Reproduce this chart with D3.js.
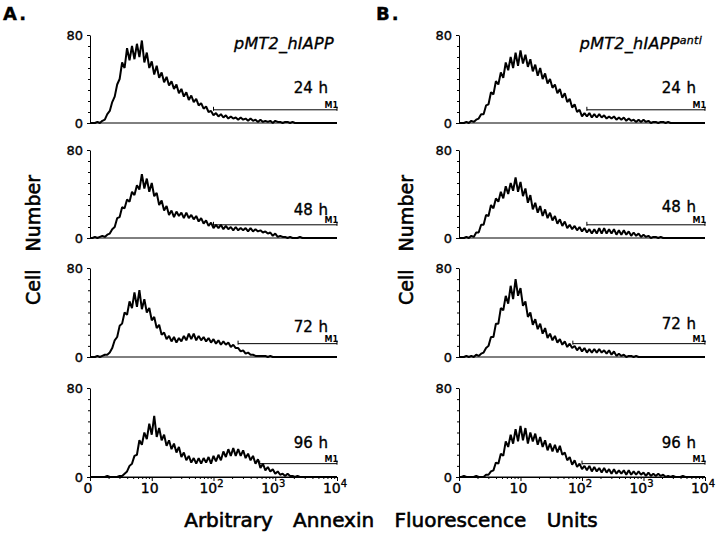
<!DOCTYPE html>
<html><head><meta charset="utf-8">
<script src="https://cdn.jsdelivr.net/npm/d3@7"></script>
<style>
body{margin:0;background:#fff}
svg{display:block}
text{font-family:"DejaVu Sans",sans-serif;fill:#000;stroke:#000;stroke-width:0.35px}
</style>
</head><body><svg id="c" width="720" height="538"></svg>
<script>
// ---------- data ----------
const times = ["24 h","48 h","72 h","96 h"];
const panelLetters = ["A.","B."];
const panelTitles = ["pMT2_hIAPP","pMT2_hIAPP"];
const titleSup = ["","anti"];
const nBins = 101; // channels evenly spaced in log10 from 10^0 to 10^4

const a24 = [0,0,0,1,0,2,3,8,11,19, 24,35,40,55,50,68,57,70,58,72, 60,75,55,64,50,56,44,52,41,46,
  37,42,34,38,31,35,27,31,24,28, 21,25,19,22,16,18,13,15,10,11, 7,9,6,8,5,7,4,6,4,5,
  3,5,3,4,2,4,2,3,1,3, 1,2,1,2,0,2,1,1,0,1, 1,0,1,0,0,0,0,0,0,0, 0,0,0,0,0,0,0,0,0,0, 0];
const a48 = [0,0,1,0,1,2,1,3,4,8, 10,18,19,28,27,35,33,42,39,48, 44,58,45,54,42,50,38,41,30,34,
  25,29,21,25,19,24,20,23,18,23, 18,21,17,20,15,18,13,16,11,14, 9,12,9,12,8,11,8,10,7,10,
  7,9,7,9,6,9,6,8,6,7, 5,6,4,5,2,4,1,2,1,1, 0,1,0,0,0,1,0,0,0,0, 0,0,0,0,0,0,0,0,0,0, 0];
const a72 = [0,0,0,1,0,1,2,2,4,8, 15,18,28,30,40,38,50,44,58,45, 60,43,52,40,44,33,36,26,29,20,
  22,16,19,14,18,13,17,14,19,15, 21,16,21,15,19,15,18,14,17,13, 16,12,15,11,14,11,13,9,11,8,
  8,5,6,3,4,2,2,1,1,1, 1,1,0,1,0,0,0,0,0,0, 0,0,0,0,0,0,0,0,0,0, 0,0,0,0,0,0,0,0,0,0, 0];
const a96 = [0,0,0,0,0,0,0,1,0,0, 0,0,1,1,3,5,10,12,19,20, 33,29,40,34,48,38,55,36,44,33,
  38,28,33,25,30,22,27,18,22,15, 19,13,17,12,17,12,17,13,18,12, 19,14,20,15,23,18,25,19,26,19,
  25,19,24,17,21,15,19,12,16,8, 12,6,9,5,7,3,5,2,3,1, 3,1,1,0,1,0,0,0,0,0, 0,0,0,0,0,0,0,0,0,0, 0];
const b24 = [0,0,0,1,0,2,1,3,4,8, 8,16,17,28,26,38,35,46,41,55, 48,60,50,64,52,66,54,62,51,58,
  47,53,43,50,40,45,36,40,32,35, 27,31,23,27,19,22,14,17,10,12, 6,9,6,9,5,8,5,8,5,7,
  4,6,4,6,3,5,3,5,2,4, 2,3,1,3,1,3,1,2,0,1, 1,0,1,1,0,1,0,0,0,0, 0,0,0,0,0,0,0,0,0,0, 0];
const b48 = [0,0,0,1,0,2,1,5,5,12, 12,21,20,30,27,36,33,42,36,47, 40,50,43,55,42,51,38,45,32,39,
  26,32,23,29,20,26,18,23,16,20, 13,17,11,15,9,12,8,11,7,10, 6,9,5,8,4,8,4,9,4,9,
  4,8,4,8,3,7,3,7,3,6, 2,5,2,4,1,3,1,2,0,1, 1,0,1,0,0,0,0,0,0,0, 0,0,0,0,0,0,0,0,0,0, 0];
const b72 = [0,0,0,1,0,1,0,2,1,3, 4,8,10,18,18,30,30,44,42,55, 48,64,52,70,55,62,46,50,36,40,
  29,34,25,30,21,26,17,21,15,19, 13,16,11,14,9,12,8,10,6,9, 5,8,4,7,4,7,4,7,4,6,
  3,6,2,5,1,3,1,2,0,1, 1,0,1,0,0,0,0,0,0,0, 0,0,0,0,0,0,0,0,0,0, 0,0,0,0,0,0,0,0,0,0, 0];
const b96 = [0,0,1,0,0,0,0,1,0,0, 0,2,2,5,6,13,12,21,19,32, 27,38,30,43,32,46,33,44,30,40,
  32,39,29,36,27,33,24,30,23,29, 22,28,20,22,15,18,11,15,9,12, 7,10,6,10,5,9,5,8,4,8,
  4,7,3,7,3,6,3,6,2,6, 2,5,2,5,2,4,1,4,1,3, 1,3,1,2,0,1,0,1,0,0, 0,1,0,0,0,0,0,0,0,0, 0];

const seriesA = [a24,a48,a72,a96];
const seriesB = [b24,b48,b72,b96];
const m1StartA = [100,100,250,560];
const m1StartB = [120,120,71,100];
const m1Level = 12;
const yTicks = [0,80];
const yMinor = [10,20,30,40,50,60,70];
const xTicks = [1,10,100,1000,10000];
const xTickBase = ["0","10","10","10","10"];
const xTickExp = ["","","2","3","4"];
const xTitle = "Arbitrary Annexin Fluorescence Units";
const yTitle = "Cell Number";

// ---------- layout ----------
const cols = [{x0:90,x1:337,lx:3,yt:40},{x0:459,x1:705,lx:376,yt:413}];
const rowZero = [123,238,357,477];
const rowTop = [35,150,268,388];
const labelBase = [[93,215,332,448],[93,212,329,448]];

const svg = d3.select("#c");
const chans = d3.range(nBins).map(i => Math.pow(10, 4*i/(nBins-1)));

cols.forEach((c, ci) => {
  const series = ci === 0 ? seriesA : seriesB;
  const m1s = ci === 0 ? m1StartA : m1StartB;
  const x = d3.scaleLog().domain([1,1e4]).range([c.x0, c.x1]);

  svg.append("text").attr("x", c.lx).attr("y", 20)
    .attr("font-size", 18).attr("font-weight","bold").attr("letter-spacing", 2).text(panelLetters[ci]);

  const tt = svg.append("text").attr("x", c.x1 - 3).attr("y", 49)
    .attr("text-anchor","end").attr("font-size", 16).attr("font-style","italic")
    .attr("letter-spacing", 0.3);
  tt.append("tspan").text(panelTitles[ci]);
  if (titleSup[ci]) tt.append("tspan").attr("font-size", 11).attr("dy", -5).text(titleSup[ci]);

  svg.append("text")
    .attr("transform", `translate(${c.yt},240) rotate(-90)`)
    .attr("text-anchor","middle").attr("font-size", 19).attr("word-spacing", 12)
    .style("stroke-width","0.6px")
    .text(yTitle);

  series.forEach((vals, ri) => {
    const y = d3.scaleLinear().domain([0,80]).range([rowZero[ri], rowTop[ri]]);
    const g = svg.append("g");

    g.append("line").attr("x1", c.x0).attr("x2", c.x1)
      .attr("y1", y(0)).attr("y2", y(0)).attr("stroke","#000").attr("stroke-width",1);

    const ya = g.append("g").attr("transform", `translate(${c.x0},0)`)
      .call(d3.axisLeft(y).tickValues(yTicks).tickSize(3).tickSizeOuter(0).tickPadding(4)
        .tickFormat(d3.format("d")));
    ya.selectAll("text").attr("font-size", 13).attr("font-family","DejaVu Sans").attr("fill","#000");
    ya.select(".domain").attr("stroke","#000");
    const ym = g.append("g").attr("transform", `translate(${c.x0},0)`)
      .call(d3.axisLeft(y).tickValues(yMinor).tickSize(2).tickFormat(""));
    ym.select(".domain").remove();

    const line = d3.line().x((d,i) => x(chans[i])).y(d => y(d)).curve(d3.curveLinear);
    g.append("path").datum(vals).attr("d", line)
      .attr("fill","none").attr("stroke","#000").attr("stroke-width",2)
      .attr("stroke-linejoin","bevel");

    const my = y(m1Level);
    g.append("line").attr("x1", x(m1s[ri])).attr("x2", x(1e4))
      .attr("y1", my).attr("y2", my).attr("stroke","#000").attr("stroke-width",1);
    [m1s[ri], 1e4].forEach(v => g.append("line").attr("x1", x(v)).attr("x2", x(v))
      .attr("y1", my - 3).attr("y2", my + 1).attr("stroke","#000").attr("stroke-width",1));
    g.append("text").attr("x", x(1e4) + 1).attr("y", my - 2).attr("text-anchor","end")
      .attr("font-size", 8).attr("font-weight","bold").style("stroke-width","0").text("M1");

    g.append("text").attr("x", c.x1 - 9).attr("y", labelBase[ci][ri])
      .attr("text-anchor","end").attr("font-size", 15).attr("word-spacing", 1).text(times[ri]);

    if (ri === 3) {
      const xa = g.append("g").attr("transform", `translate(0,${y(0)})`)
        .call(d3.axisBottom(x).tickValues(xTicks).tickSize(4).tickSizeOuter(0).tickFormat(""));
      xa.select(".domain").attr("stroke","#000");
      const minor = x.ticks().filter(t => !xTicks.includes(t));
      const xm = g.append("g").attr("transform", `translate(0,${y(0)})`)
        .call(d3.axisBottom(x).tickValues(minor).tickSize(2).tickFormat(""));
      xm.select(".domain").remove();
      xTicks.forEach((t, k) => {
        const tx = g.append("text").attr("x", x(t) - 2).attr("y", 493)
          .attr("text-anchor","middle").attr("font-size", 14);
        tx.append("tspan").text(xTickBase[k]);
        if (xTickExp[k]) tx.append("tspan").attr("font-size", 10).attr("dy", -6).text(xTickExp[k]);
      });
    }
  });
});

svg.append("text").attr("x", 391).attr("y", 527).attr("text-anchor","middle")
  .attr("font-size", 20).attr("word-spacing", 14).style("stroke-width","0.6px").text(xTitle);
</script>
</body></html>
